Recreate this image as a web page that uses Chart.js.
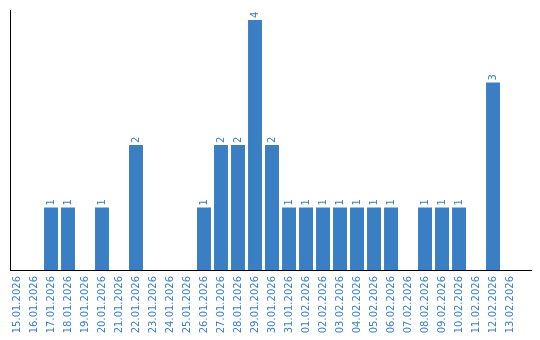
<!DOCTYPE html>
<html>
<head>
<meta charset="utf-8">
<script src="https://cdn.jsdelivr.net/npm/chart.js@4"></script>
<style>
  html, body { margin: 0; padding: 0; background: #fff; }
  #wrap { width: 540px; height: 340px; position: relative; }
</style>
</head>
<body>
<div id="wrap"><canvas id="chart"></canvas></div>
<script>
// Dates (categories) et nombre par jour
const days = ['15.01.2026', '16.01.2026', '17.01.2026', '18.01.2026', '19.01.2026', '20.01.2026',
    '21.01.2026', '22.01.2026', '23.01.2026', '24.01.2026', '25.01.2026', '26.01.2026',
    '27.01.2026', '28.01.2026', '29.01.2026', '30.01.2026', '31.01.2026', '01.02.2026',
    '02.02.2026', '03.02.2026', '04.02.2026', '05.02.2026', '06.02.2026', '07.02.2026',
    '08.02.2026', '09.02.2026', '10.02.2026', '11.02.2026', '12.02.2026', '13.02.2026'];
const counts = [0, 0, 1, 1, 0, 1, 0, 2, 0, 0, 0, 1, 2, 2, 4, 2, 1, 1, 1, 1, 1, 1, 1, 0, 1, 1, 1, 0, 3, 0];

const blue = '#3a7ec4';

// Valeurs au-dessus des barres, tournées de 90°
const valueLabels = {
    id: 'valueLabels',
    afterDatasetsDraw(chart) {
        const ctx = chart.ctx;
        const meta = chart.getDatasetMeta(0);
        ctx.save();
        ctx.fillStyle = blue;
        ctx.font = '10px "DejaVu Sans"';
        ctx.textAlign = 'left';
        ctx.textBaseline = 'middle';
        meta.data.forEach((bar, i) => {
            if (!counts[i]) return;
            ctx.save();
            ctx.translate(bar.x, bar.y - 2);
            ctx.rotate(-Math.PI / 2);
            ctx.fillText(String(counts[i]), 0, 0);
            ctx.restore();
        });
        ctx.restore();
    }
};

new Chart(document.getElementById('chart').getContext('2d'), {
    type: 'bar',
    data: {
        datasets: [{
            data: counts.map((v, i) => ({ x: i, y: v })),
            backgroundColor: blue,
            barPercentage: 0.82,
            categoryPercentage: 1
        }]
    },
    options: {
        responsive: true,
        maintainAspectRatio: false,
        animation: false,
        layout: { padding: { top: 10, left: 10, right: 9, bottom: 0 } },
        plugins: { legend: { display: false }, tooltip: { enabled: false } },
        scales: {
            x: {
                type: 'linear',
                offset: false,
                min: -0.4118,
                max: 30.235,
                grid: { display: false, drawTicks: false },
                border: { display: true, color: '#000', width: 1 },
                afterBuildTicks: (scale) => {
                    scale.ticks = days.map((d, i) => ({ value: i }));
                },
                afterFit: (scale) => {
                    scale.height = 70;
                    scale.paddingLeft = 0;
                    scale.paddingRight = 0;
                },
                ticks: {
                    autoSkip: false,
                    minRotation: 90,
                    maxRotation: 90,
                    padding: 6,
                    color: blue,
                    font: { family: 'DejaVu Sans', size: 10 },
                    callback: (value) => days[value] || ''
                }
            },
            y: {
                min: 0,
                max: 4.16,
                grid: { display: false, drawTicks: false },
                border: { display: true, color: '#000', width: 1 },
                ticks: { display: false },
                afterFit: (scale) => { scale.width = 0; }
            }
        }
    },
    plugins: [valueLabels]
});
</script>
</body>
</html>
